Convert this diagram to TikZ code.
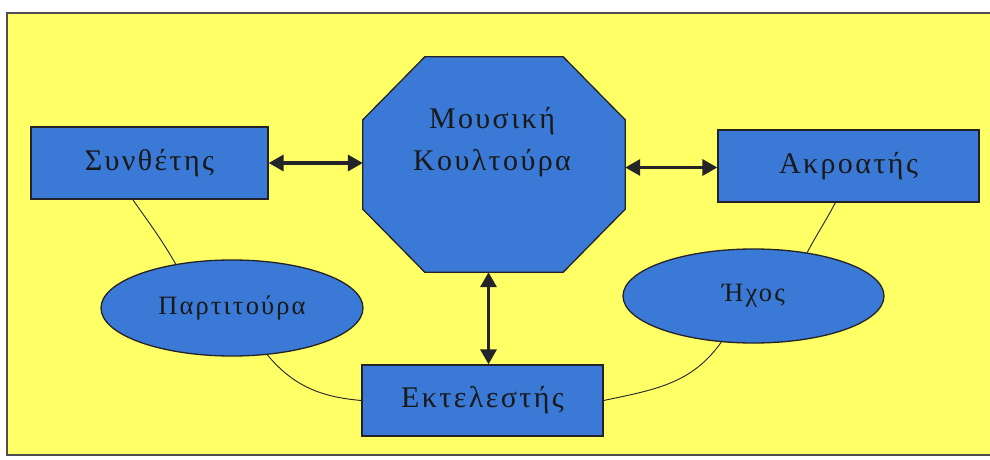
\documentclass[tikz,border=0pt]{standalone}
\usepackage{fontspec}
\setmainfont{Liberation Serif}[LetterSpace=8]
\usetikzlibrary{arrows.meta,calc,shapes.geometric}
\definecolor{bgyellow}{RGB}{255,255,102}
\definecolor{boxblue}{RGB}{58,122,214}
\definecolor{edgegray}{RGB}{35,35,40}
\definecolor{txt}{RGB}{25,25,25}
\begin{document}
\begin{tikzpicture}[x=1pt,y=-1pt,
  boxnode/.style={draw=edgegray,line width=1.3pt,fill=boxblue,rectangle,inner sep=0pt,
    text=txt,font=\fontsize{30}{34}\selectfont},
  ellnode/.style={draw=edgegray,line width=1.3pt,fill=boxblue,ellipse,inner sep=0pt,
    text=txt,font=\fontsize{26.5}{30}\selectfont},
  biarrow/.style={draw=edgegray,line width=3.3pt,{Triangle[length=15pt,width=16pt]}-{Triangle[length=15pt,width=16pt]}},
  thinline/.style={draw=edgegray,line width=0.9pt},
  frameline/.style={draw=edgegray!80,line width=2pt}]
\useasboundingbox (0,0) rectangle (990,460);
\fill[white] (0,0) rectangle (990,460);
\fill[bgyellow] (7,13) rectangle (990,455);
\draw[frameline] (990,13) -- (7,13) -- (7,455) -- (990,455);

% octagon
\node[rectangle,minimum width=262pt,minimum height=215pt,inner sep=0pt] (oct) at (494,164.5) {};
\filldraw[fill=boxblue,draw=edgegray,line width=1.3pt]
  ($(oct.north west)+(62,0)$) -- ($(oct.north east)+(-62,0)$) -- ($(oct.north east)+(0,63)$)
  -- ($(oct.south east)+(0,-63)$) -- ($(oct.south east)+(-62,0)$) -- ($(oct.south west)+(62,0)$)
  -- ($(oct.south west)+(0,-63)$) -- ($(oct.north west)+(0,63)$) -- cycle;
\node[text=txt,align=center,font=\fontsize{30}{42}\selectfont] (octtext) at (492,142) {Μουσική\\Κουλτούρα};

\node[boxnode,minimum width=237pt,minimum height=72pt] (syn) at (149.5,163) {Συνθέτης};
\node[boxnode,minimum width=261pt,minimum height=72pt] (akr) at (848.5,166) {Ακροατής};
\node[boxnode,minimum width=241pt,minimum height=71pt] (ekt) at (482.5,400.5) {Εκτελεστής};
\node[ellnode,minimum width=262pt,minimum height=96pt] (part) at (232,308) {Παρτιτούρα};
\node[ellnode,minimum width=261pt,minimum height=94pt] (ichos) at (753.5,296) {Ήχος};

% arrows
\draw[biarrow] (syn.east) -- (syn.east -| oct.west);
\draw[biarrow] ([yshift=-3]oct.east) -- ([yshift=-3]oct.east -| akr.west);
\draw[biarrow] ([xshift=-5.5]oct.south) -- ([xshift=-5.5]oct.south |- ekt.north);

% thin curves
\draw[thinline] ($(syn.south west)!0.43!(syn.south east)$) to[out=-55,in=120] (part.142);
\draw[thinline] (part.-53) to[out=-50,in=175] (ekt.west);
\draw[thinline] (ekt.east) to[out=12,in=-125] (ichos.-125);
\draw[thinline] (ichos.39) to[out=62,in=-118] ($(akr.south west)!0.45!(akr.south east)$);
\end{tikzpicture}
\end{document}
